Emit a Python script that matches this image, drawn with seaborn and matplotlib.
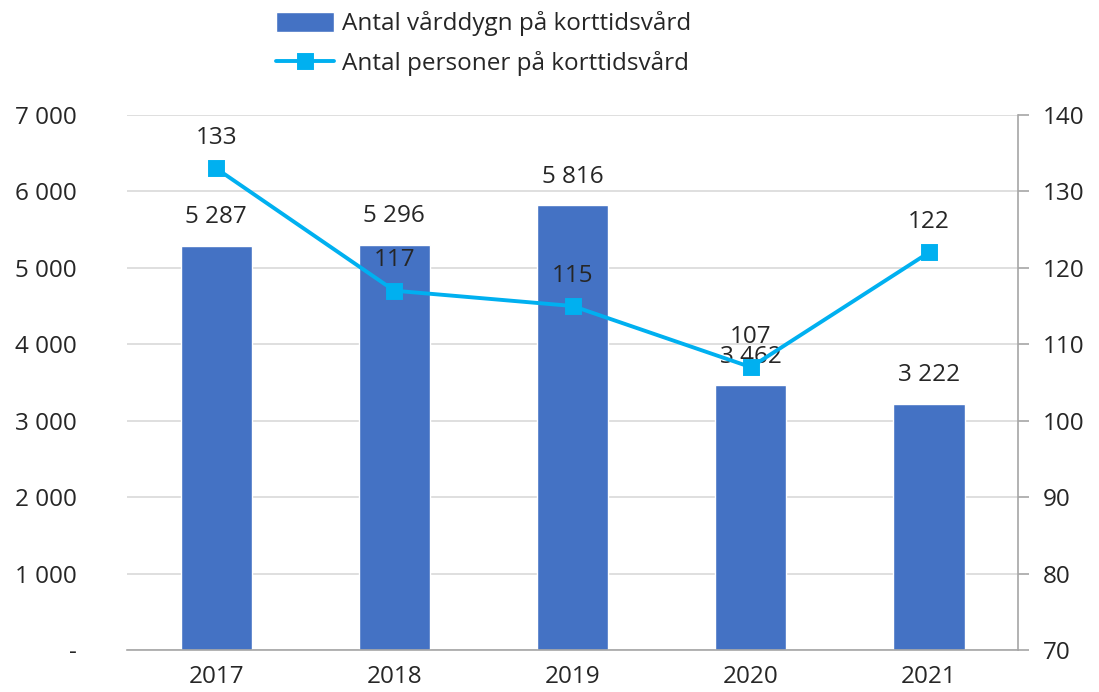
import matplotlib
matplotlib.use("Agg")
import matplotlib.pyplot as plt
import seaborn as sns
import pandas as pd
from matplotlib.ticker import FuncFormatter, FixedLocator, MultipleLocator

years = ["2017", "2018", "2019", "2020", "2021"]
vard_dygn = [5287, 5296, 5816, 3462, 3222]
personer = [133, 117, 115, 107, 122]

bar_label = "Antal vårddygn på korttidsvård"
line_label = "Antal personer på korttidsvård"

sns.set_theme(style="white")
plt.rcParams["font.family"] = ["Open Sans", "DejaVu Sans"]
FS = 17.5

df = pd.DataFrame({"year": years, "dygn": vard_dygn, "pers": personer})

fig = plt.figure(figsize=(10.99, 6.92), dpi=100)
ax = fig.add_axes([0.1156, 0.0607, 0.8108, 0.7733])

sns.barplot(data=df, x="year", y="dygn", color="#4472C4", width=0.4,
            saturation=1, ax=ax, label=bar_label, zorder=2)
if ax.get_legend() is not None:
    ax.get_legend().remove()
ax.set_ylim(0, 7000)
ax.set_xlim(-0.5, 4.5)
ax.yaxis.set_major_locator(MultipleLocator(1000))
ax.yaxis.set_major_formatter(FuncFormatter(
    lambda v, p: "-" if v == 0 else f"{int(v):,}".replace(",", " ")))
ax.grid(axis="y", color="#D9D9D9", linewidth=1.2, zorder=0)
ax.set_axisbelow(True)
ax.set_xlabel("")
ax.set_ylabel("")
for s in ["top", "left", "right"]:
    ax.spines[s].set_visible(False)
ax.spines["bottom"].set_color("#A6A6A6")
ax.spines["bottom"].set_linewidth(1.2)
ax.tick_params(axis="x", which="major", length=0, pad=11, labelsize=FS, colors="#262626")
ax.xaxis.set_minor_locator(FixedLocator([i - 0.5 for i in range(len(years) + 1)]))
ax.tick_params(axis="x", which="minor", length=8, width=1.2, color="#A6A6A6", direction="out")
ax.tick_params(axis="y", length=0, pad=36, labelsize=FS, colors="#262626")

for i, v in enumerate(vard_dygn):
    ax.text(i, v + 220, f"{v:,}".replace(",", " "), ha="center", va="bottom",
            fontsize=FS, color="#262626", zorder=5)

ax2 = ax.twinx()
sns.pointplot(data=df, x="year", y="pers", color="#00B0F0", markers="s",
              markersize=10.5, linewidth=2.8, ax=ax2, label=line_label, zorder=4)
if ax2.get_legend() is not None:
    ax2.get_legend().remove()
ax2.set_ylim(70, 140)
ax2.set_xlim(-0.5, 4.5)
ax2.yaxis.set_major_locator(MultipleLocator(10))
ax2.set_ylabel("")
ax2.set_xlabel("")
for s in ["top", "left", "bottom"]:
    ax2.spines[s].set_visible(False)
ax2.spines["right"].set_color("#A6A6A6")
ax2.spines["right"].set_linewidth(1.2)
ax2.tick_params(axis="y", length=8, width=1.2, color="#A6A6A6", direction="out",
                pad=10, labelsize=FS, labelcolor="#262626")
ax2.grid(False)

for i, v in enumerate(personer):
    ax2.text(i, v + 2.4, str(v), ha="center", va="bottom",
             fontsize=FS, color="#262626", zorder=5)

h1, l1 = ax.get_legend_handles_labels()
h2, l2 = ax2.get_legend_handles_labels()
fig.legend(h1 + h2, l1 + l2, loc="upper center", bbox_to_anchor=(0.44, 1.015),
           ncol=1, frameon=False, fontsize=FS, handlelength=2.4,
           handleheight=0.9, labelspacing=0.6, handletextpad=0.3)

fig.savefig("out.png", dpi=100)
